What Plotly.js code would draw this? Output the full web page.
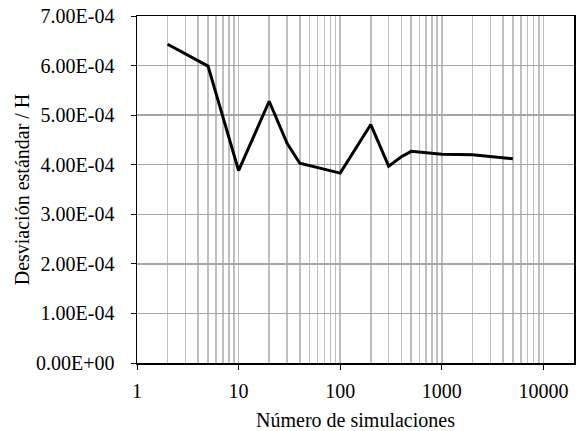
<!DOCTYPE html>
<html>
<head>
<meta charset="utf-8">
<script src="https://cdn.plot.ly/plotly-3.0.1.min.js"></script>
<style>html,body{margin:0;padding:0;background:#fff;}#chart{width:578px;height:431px;}</style>
</head>
<body>
<div id="chart"></div>
<script>
const simulaciones = [2, 5, 10, 20, 30, 40, 100, 200, 300, 400, 500, 1000, 2000, 5000];
const desviacion = [6.43e-4, 5.99e-4, 3.88e-4, 5.28e-4, 4.43e-4, 4.03e-4, 3.83e-4, 4.81e-4, 3.97e-4, 4.16e-4, 4.27e-4, 4.21e-4, 4.20e-4, 4.12e-4];
const yTickVals = [0, 1e-4, 2e-4, 3e-4, 4e-4, 5e-4, 6e-4, 7e-4];
const yTickText = ["0.00E+00", "1.00E-04", "2.00E-04", "3.00E-04", "4.00E-04", "5.00E-04", "6.00E-04", "7.00E-04"];
const xTickVals = [1, 10, 100, 1000, 10000];
const xTickText = ["1", "10", "100", "1000", "10000"];

const font = {family: "Liberation Serif, Times New Roman, serif", size: 20, color: "#000"};

Plotly.newPlot("chart", [{
  x: simulaciones,
  y: desviacion,
  type: "scatter",
  mode: "lines",
  line: {color: "#000", width: 3},
  hoverinfo: "skip"
}], {
  width: 578, height: 431,
  margin: {l: 137, r: 4, t: 16, b: 68},
  paper_bgcolor: "#fff",
  plot_bgcolor: "#fff",
  showlegend: false,
  font: font,
  xaxis: {
    type: "log",
    range: [0, Math.log10(20000)],
    tickvals: xTickVals,
    ticktext: xTickText,
    ticks: "outside",
    ticklen: 5,
    tickcolor: "#000",
    ticklabelstandoff: 4,
    showline: true,
    linecolor: "#000",
    linewidth: 1.5,
    mirror: true,
    showgrid: true,
    gridcolor: "#bfbfbf",
    gridwidth: 1.5,
    minor: {dtick: "D1", showgrid: true, gridcolor: "#bfbfbf", gridwidth: 1.5, ticks: ""},
    zeroline: false,
    tickfont: font,
    title: {text: "Número de simulaciones", font: font, standoff: 15}
  },
  yaxis: {
    range: [0, 7e-4],
    tickvals: yTickVals,
    ticktext: yTickText,
    ticks: "outside",
    ticklen: 5,
    tickcolor: "#000",
    ticklabelstandoff: 12,
    showline: true,
    linecolor: "#000",
    linewidth: 1.5,
    mirror: true,
    showgrid: true,
    gridcolor: "#a6a6a6",
    gridwidth: 1.5,
    zeroline: false,
    tickfont: font,
    title: {text: "Desviación estándar / H", font: font, standoff: 1}
  }
}, {staticPlot: true});
</script>
</body>
</html>
